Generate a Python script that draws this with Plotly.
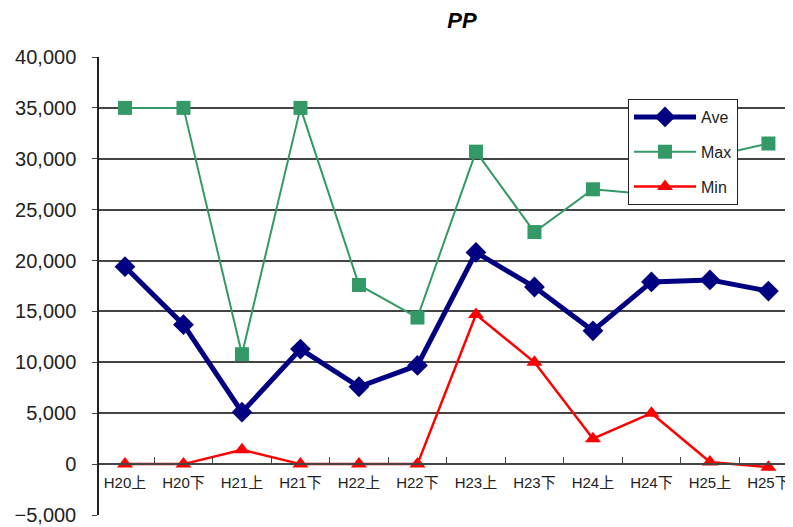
import plotly.graph_objects as go

categories = ["H20上", "H20下", "H21上", "H21下", "H22上", "H22下",
              "H23上", "H23下", "H24上", "H24下", "H25上", "H25下"]
ave = [19400, 13700, 5100, 11300, 7600, 9700, 20800, 17400, 13100, 17900, 18100, 17000]
mx = [35000, 35000, 10800, 35000, 17600, 14400, 30700, 22800, 27000, 26500, 30200, 31500]
mn = [0, 0, 1400, 0, 0, 0, 14700, 10000, 2500, 5000, 200, -300]

FONT = "Liberation Sans, Arial, Noto Sans CJK JP, sans-serif"
OFF = 8  # page body margin

fig = go.Figure()
fig.add_trace(go.Scatter(x=categories, y=ave, name="Ave", mode="lines+markers",
                         line=dict(color="#000080", width=5),
                         marker=dict(symbol="diamond", size=16, color="#000080"),
                         legendgroup="a"))
fig.add_trace(go.Scatter(x=categories, y=mx, name="Max", mode="lines+markers",
                         line=dict(color="#339966", width=2),
                         marker=dict(symbol="square", size=14, color="#339966"),
                         legendgroup="b"))
fig.add_trace(go.Scatter(x=categories, y=mn, name="Min", mode="lines+markers",
                         line=dict(color="#FF0000", width=2.5),
                         marker=dict(symbol="triangle-up", size=14, color="#FF0000"),
                         legendgroup="c"))

fig.update_layout(
    width=793, height=527,
    margin=dict(l=99 - OFF, r=OFF, t=57 - OFF, b=12 + OFF),
    paper_bgcolor="white", plot_bgcolor="white",
    font=dict(family=FONT, color="#222"),
    title=dict(text="<b><i>PP</i></b>", x=(462 - OFF) / 793, xref="container",
               xanchor="center", y=1 - (20 - OFF) / 527, yref="container",
               yanchor="middle", automargin=False,
               font=dict(size=22, color="black", family=FONT)),
    showlegend=True,
    legend=dict(x=(628 - 99) / 694, y=(515 - 99) / 458, xanchor="left", yanchor="top",
                bgcolor="white", bordercolor="#222", borderwidth=1,
                font=dict(size=16, family=FONT, color="#222"),
                tracegroupgap=11, itemwidth=62),
    xaxis=dict(type="category", range=[-0.444, 11.42], anchor="free", automargin=False,
               position=5000 / 45000, showline=True, linecolor="#444", linewidth=1.5,
               ticks="inside", tickson="boundaries", ticklen=6, tickcolor="#444",
               ticklabelstandoff=5,
               showgrid=False, tickfont=dict(size=15, family=FONT, color="#222")),
    yaxis=dict(range=[-5000, 40000], dtick=5000, tickformat=",", showgrid=True,
               automargin=False,
               gridcolor="#444", gridwidth=1.5, zeroline=False, showline=True,
               linecolor="#222", linewidth=1.5, ticks="outside", ticklen=5,
               tickcolor="#444", ticklabelstandoff=12,
               tickfont=dict(size=20, family=FONT, color="#222")),
)

fig.write_html("out.html")
